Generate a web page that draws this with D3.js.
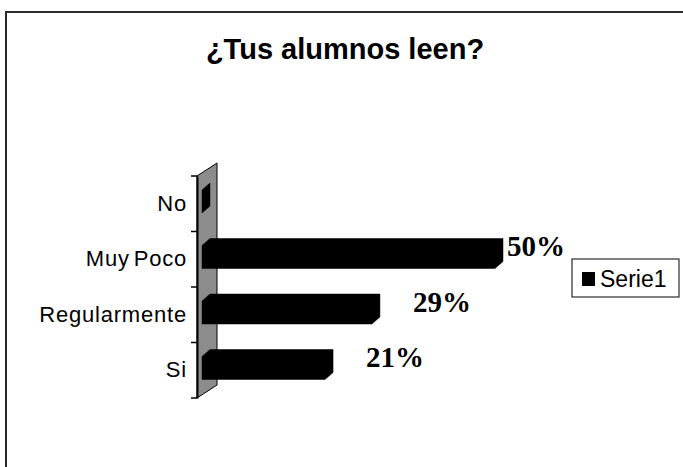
<!DOCTYPE html>
<html>
<head>
<meta charset="utf-8">
<script src="https://cdn.jsdelivr.net/npm/d3@7"></script>
<style>
  body { margin: 0; background: #fff; }
</style>
</head>
<body>
<script>
/* Define width and height */
var width = 683,
    height = 467;

/* Chart data */
var categories = ["No", "Muy Poco", "Regularmente", "Si"];
var values = [0, 50, 29, 21];        // percent
var valueLabels = ["", "50%", "29%", "21%"];
var seriesName = "Serie1";
var title = "¿Tus alumnos leen?";

/* 3D look */
var depth = { dx: 8, dy: -7 };        // bar depth
var wallDepth = { dx: 20, dy: -13 };  // back wall depth

var svg = d3.select("body").append("svg")
    .attr("width", width)
    .attr("height", height)
    .style("font-family", "Arial, 'Liberation Sans', sans-serif");

/* outer chart frame (runs off the right and bottom edge) */
svg.append("rect")
    .attr("x", 6).attr("y", 12)
    .attr("width", 720).attr("height", 520)
    .attr("fill", "none")
    .attr("stroke", "#2a2a2a")
    .attr("stroke-width", 2);

/* title */
svg.append("text")
    .attr("x", 345).attr("y", 59)
    .attr("text-anchor", "middle")
    .attr("font-weight", "bold")
    .attr("font-size", 29)
    .text(title);

/* scales */
var y = d3.scaleBand()
    .domain(categories)
    .range([176, 398]);

var x = d3.scaleLinear()
    .domain([0, 50])
    .range([202, 495]);

var axisX = 197;

/* back wall (grey parallelogram) */
var y0 = y.range()[0], y1 = y.range()[1];
svg.append("path")
    .attr("d", d3.line()([
        [axisX, y1], [axisX, y0],
        [axisX + wallDepth.dx, y0 + wallDepth.dy],
        [axisX + wallDepth.dx, y1 + wallDepth.dy]
    ]) + "Z")
    .attr("fill", "#8c8c8c")
    .attr("stroke", "#000")
    .attr("stroke-width", 1);

/* category axis */
var axis = svg.append("g")
    .attr("transform", "translate(" + axisX + ",0)")
    .call(d3.axisLeft(y).tickSize(0).tickPadding(10));
axis.select(".domain").attr("stroke", "#000").attr("stroke-width", 2);
axis.selectAll(".tick text")
    .attr("font-family", "Arial, 'Liberation Sans', sans-serif")
    .attr("font-size", 22)
    .attr("letter-spacing", 0.8)
    .attr("word-spacing", -3)
    .attr("fill", "#000");

/* tick marks at band boundaries */
var bounds = categories.map(function(c) { return y(c); }).concat([y1]);
svg.append("g").selectAll("line")
    .data(bounds)
    .enter().append("line")
    .attr("x1", axisX - 6).attr("x2", axisX)
    .attr("y1", function(d) { return d; })
    .attr("y2", function(d) { return d; })
    .attr("stroke", "#000")
    .attr("stroke-width", 1.5);

/* bars: front face + top face + end face, all black */
var barTop = 14, barH = 23;
svg.append("g").selectAll("path")
    .data(categories)
    .enter().append("path")
    .attr("d", function(c, i) {
        var xa = x(0), xb = x(values[i]);
        var yt = y(c) + barTop, yb = yt + barH;
        return d3.line()([
            [xa, yb], [xa, yt],
            [xa + depth.dx, yt + depth.dy],
            [xb + depth.dx, yt + depth.dy],
            [xb + depth.dx, yb + depth.dy],
            [xb, yb]
        ]) + "Z";
    })
    .attr("fill", "#000")
    .attr("stroke", "#000")
    .attr("stroke-width", 0.5);

/* legend */
var legend = { x: 572, y: 259, w: 107, h: 38 };

/* value labels: outside the bar end, kept left of the legend */
svg.append("g").selectAll("text")
    .data(categories)
    .enter().append("text")
    .attr("y", function(c) { return y(c) + y.bandwidth() / 2 - 3; })
    .attr("font-family", "'Times New Roman', 'Liberation Serif', serif")
    .attr("font-weight", "bold")
    .attr("font-size", 29)
    .text(function(c, i) { return valueLabels[i]; })
    .attr("x", function(c, i) {
        var w = this.getComputedTextLength();
        return Math.min(x(values[i]) + depth.dx + 33, legend.x - 7 - w);
    });

svg.append("rect")
    .attr("x", legend.x).attr("y", legend.y)
    .attr("width", legend.w).attr("height", legend.h)
    .attr("fill", "#fff")
    .attr("stroke", "#000")
    .attr("stroke-width", 1);

svg.append("rect")
    .attr("x", legend.x + 10).attr("y", legend.y + 13)
    .attr("width", 13).attr("height", 14)
    .attr("fill", "#000");

svg.append("text")
    .attr("x", legend.x + 28).attr("y", legend.y + 28)
    .attr("font-size", 23)
    .attr("fill", "#000")
    .text(seriesName);
</script>
</body>
</html>
